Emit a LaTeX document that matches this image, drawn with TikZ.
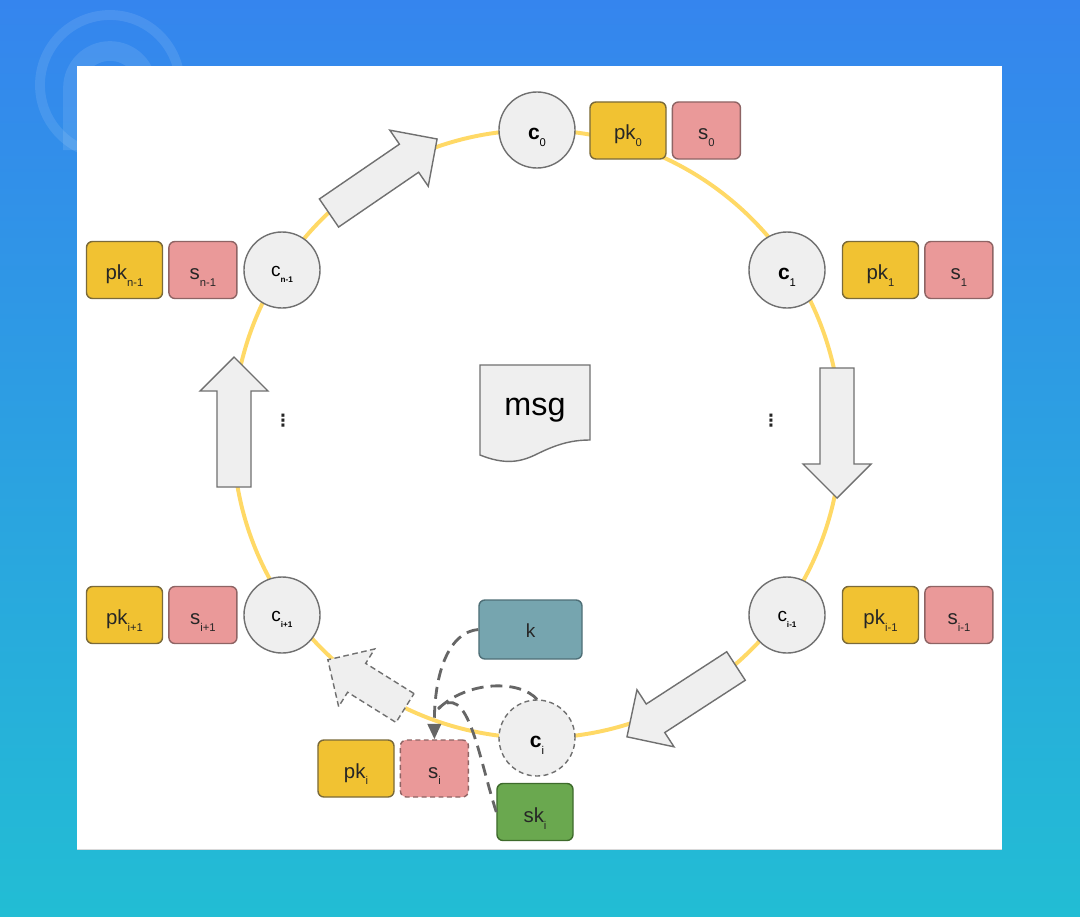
\documentclass[tikz,border=0pt]{standalone}
\usepackage{fontspec}
\setmainfont{Liberation Sans}
\newfontfamily\symfont{DejaVu Sans}
\usetikzlibrary{arrows.meta,positioning}
\definecolor{bgtop}{HTML}{3585EE}
\definecolor{bgbot}{HTML}{22BDD4}
\definecolor{ringyellow}{HTML}{FFD966}
\definecolor{nodefill}{HTML}{EFEFEF}
\definecolor{nodeedge}{HTML}{707070}
\definecolor{pkyellow}{HTML}{F1C232}
\definecolor{pkedge}{HTML}{7A6A3A}
\definecolor{sigpink}{HTML}{EA9999}
\definecolor{sigedge}{HTML}{8E6464}
\definecolor{keyteal}{HTML}{76A5AF}
\definecolor{keyedge}{HTML}{4F6F77}
\definecolor{skgreen}{HTML}{6AA84F}
\definecolor{skedge}{HTML}{3E6B2C}
\definecolor{linkgrey}{HTML}{666666}

\newcommand\lo[1]{\smash{\raisebox{-4.8pt}{\fontsize{8}{9}\selectfont\mdseries #1}}}
\newcommand\tinylo[1]{\smash{\raisebox{-4pt}{\fontsize{5.8}{6}\selectfont\bfseries #1}}}

\tikzset{
    pics/flowarrow/.style={code={
        \draw[flowbody] (0,-17) -- (#1-34,-17) -- (#1-34,-34) -- (#1,0)
            -- (#1-34,34) -- (#1-34,17) -- (0,17) -- cycle;
    }},
    flowbody/.style={fill=nodefill, draw=nodeedge, line width=1pt, line join=miter},
}

\begin{document}
\begin{tikzpicture}[
    x=0.025cm, y=0.025cm,
    every node/.style={text=black!85},
    ring/.style={draw=ringyellow, line width=2.8pt},
    ringnode/.style={circle, draw=nodeedge, fill=nodefill, line width=1pt,
        minimum size=1.9cm, inner sep=0pt, text height=14pt, text depth=0.5pt,
        font=\fontsize{15}{18}\selectfont\bfseries, text=black},
    minornode/.style={ringnode, font=\fontsize{13.5}{16}\selectfont, text height=10pt},
    keybox/.style={rectangle, rounded corners=0.15cm, line width=1pt,
        minimum width=1.9cm, minimum height=1.425cm, inner sep=0pt,
        text height=14pt, text depth=0.5pt, font=\fontsize{14.5}{17}\selectfont},
    pkbox/.style={keybox, fill=pkyellow, draw=pkedge},
    sigbox/.style={keybox, fill=sigpink, draw=sigedge, minimum width=1.7cm},
    linkline/.style={draw=linkgrey, line width=2pt, dash pattern=on 8.5pt off 5pt},
    gapdots/.style={font=\symfont\bfseries\fontsize{12}{14}\selectfont, text=black!85},
]
\useasboundingbox (0,0) rectangle (1080,-916);

% Backdrop and faint logo
\fill[top color=bgtop, bottom color=bgbot] (0,0) rectangle (1080,-916);
\draw[white, opacity=0.1, line width=7pt] (110,-85) circle (70);
\draw[white, opacity=0.1, line width=14pt] (73,-150) -- (73,-88) arc[start angle=180, end angle=0, radius=37];
\fill[white] (77,-66) rectangle (1002,-849);
\draw[black!15] (77,-849) -- (1002,-849);

% Ring
\draw[ring] (537,-434) circle (304);

% Flow arrows round the ring
\pic[rotate=34.4] at (329,-213) {flowarrow=131};
\pic[rotate=-90] at (837,-368) {flowarrow=130};
\pic[rotate=213] at (736,-666) {flowarrow=130};
\pic[rotate=148, dash pattern=on 4pt off 2.5pt] at (405,-708) {flowarrow=91};
\pic[rotate=90] at (234,-487) {flowarrow=130};

% Ring members
\node[ringnode] (c0) at (537,-130) {c\lo{0}};
\node[ringnode] (c1) at (787,-270) {c\lo{1}};
\node[minornode] (cn1) at (282,-270) {c\tinylo{n-1}};
\node[minornode] (cip) at (282,-615) {c\tinylo{i+1}};
\node[minornode] (cim) at (787,-615) {c\tinylo{i-1}};
\node[ringnode, dash pattern=on 3.5pt off 2.5pt] (ci) at (537,-738) {c\lo{i}};

% Key and signature pairs
\node[pkbox] (pk0) at (628,-130.5) {pk\lo{0}};
\node[sigbox, right=0.125cm of pk0] (s0) {s\lo{0}};
\node[pkbox] (pk1) at (880.5,-270) {pk\lo{1}};
\node[sigbox, right=0.125cm of pk1] (s1) {s\lo{1}};
\node[pkbox] (pkn1) at (124.5,-270) {pk\lo{n-1}};
\node[sigbox, right=0.125cm of pkn1] (sn1) {s\lo{n-1}};
\node[pkbox] (pkip) at (124.5,-615) {pk\lo{i+1}};
\node[sigbox, right=0.125cm of pkip] (sip) {s\lo{i+1}};
\node[pkbox] (pkim) at (880.5,-615) {pk\lo{i-1}};
\node[sigbox, right=0.125cm of pkim] (sim) {s\lo{i-1}};
\node[pkbox] (pki) at (356,-768.5) {pk\lo{i}};
\node[sigbox, right=0.125cm of pki, dash pattern=on 3.5pt off 2.5pt] (si) {s\lo{i}};

% Signer's inputs
\node[keybox, fill=keyteal, draw=keyedge, minimum width=2.575cm, minimum height=1.475cm,
    font=\fontsize{13.5}{16}\selectfont, text height=12.5pt] (k) at (530.5,-629.5) {k};
\node[keybox, fill=skgreen, draw=skedge, text height=16pt] (sk) at (535,-812) {sk\lo{i}};

% Message
\draw[flowbody] (480,-365) -- (590,-365) -- (590,-440)
    .. controls (570,-440) and (555,-445) .. (535,-455)
    .. controls (520,-462) and (505,-465) .. (480,-455) -- cycle;
\node[anchor=base, font=\fontsize{23}{26}\selectfont, text=black] (msg) at (535,-415) {msg};

% Gaps in the ring
\node[gapdots] (dotsl) at (283,-421) {⋮};
\node[gapdots] (dotsr) at (771,-421) {⋮};

% Closing the ring at c_i
\coordinate (merge) at (438,-709);
\draw[linkline, -{Triangle[length=11pt, width=9.5pt]}] (k.west)
    .. controls (450,-632) and (434,-670) .. (si.north);
\draw[linkline] (ci.north) .. controls (520,-680) and (468,-680) .. (merge);
\draw[linkline] (sk.west) .. controls (478,-755) and (468,-680) .. (merge);

\end{tikzpicture}
\end{document}
